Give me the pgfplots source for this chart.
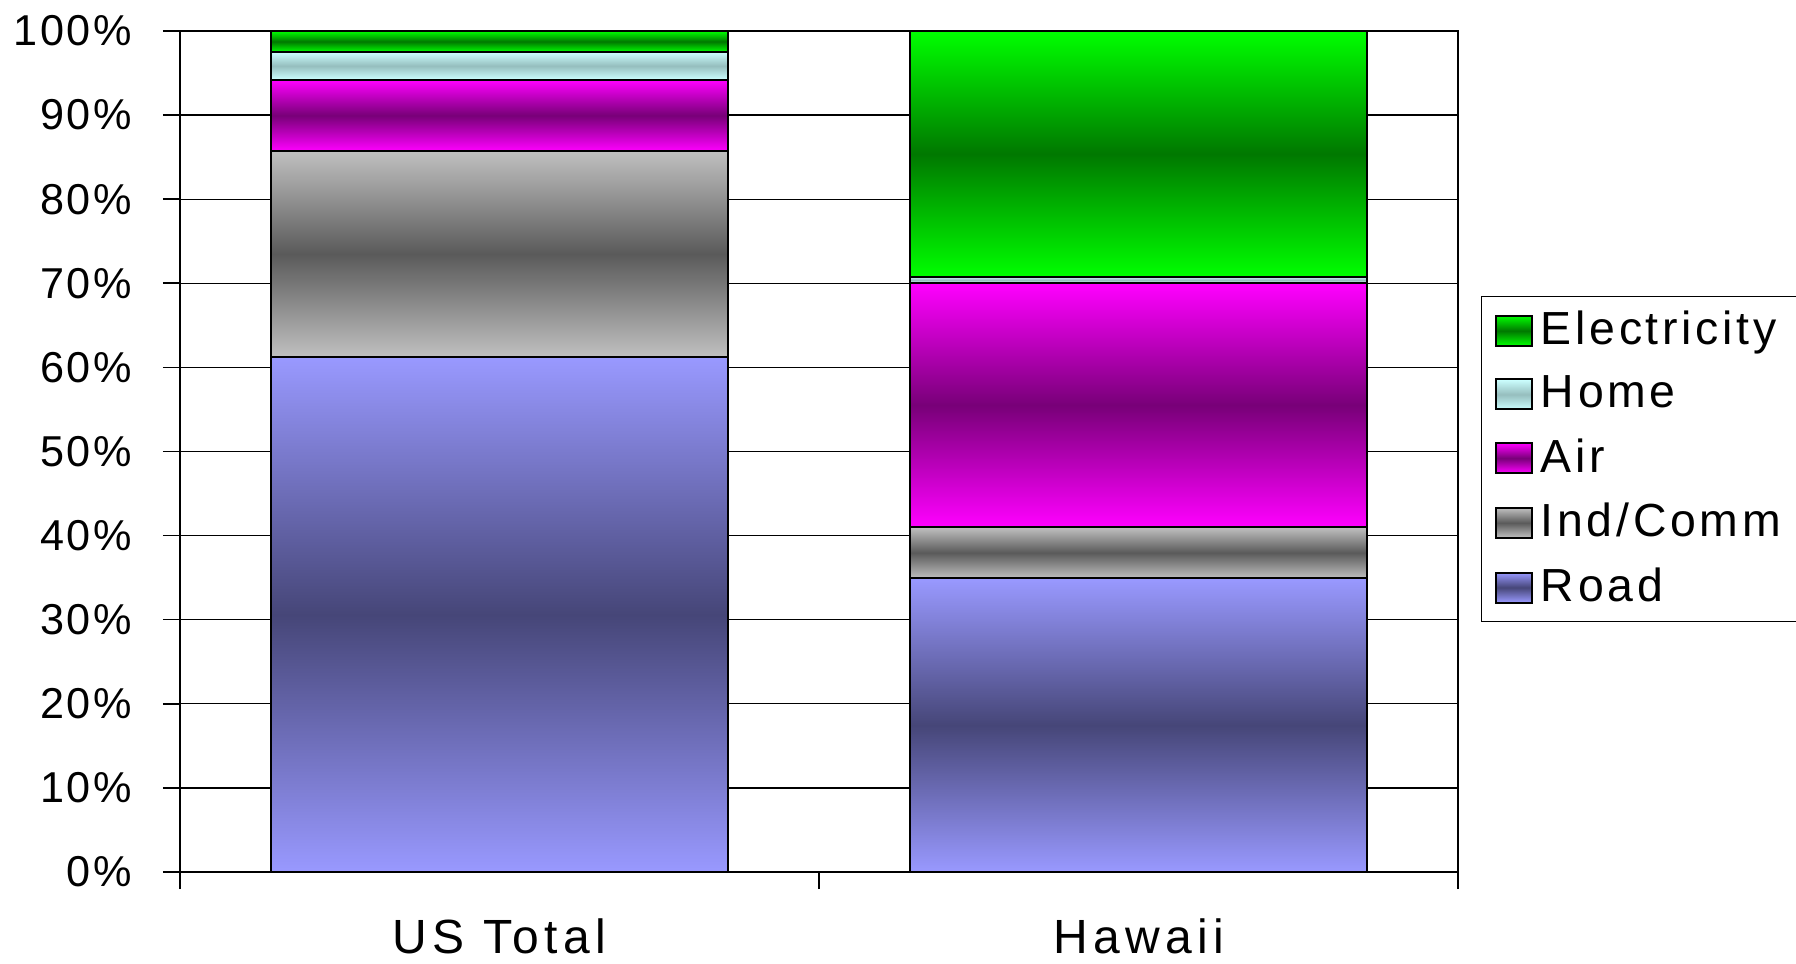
\documentclass[border=0pt]{standalone}
\usepackage{fontspec}
\setmainfont{Liberation Sans}[LetterSpace=6]
\newfontfamily\catfont{Liberation Sans}[LetterSpace=11]
\newfontfamily\legfont{Liberation Sans}[LetterSpace=8]
\usepackage{pgfplots}
\pgfplotsset{compat=1.18}
\definecolor{roadL}{RGB}{153,153,255}
\definecolor{roadD}{RGB}{70,70,120}
\definecolor{indL}{RGB}{192,192,192}
\definecolor{indD}{RGB}{90,90,90}
\definecolor{airL}{RGB}{255,0,255}
\definecolor{airD}{RGB}{120,0,120}
\definecolor{homeL}{RGB}{204,255,255}
\definecolor{homeD}{RGB}{150,190,190}
\definecolor{elecL}{RGB}{0,255,0}
\definecolor{elecD}{RGB}{0,120,0}
\pgfplotsset{
  base/.style={
    width=319.5pt, height=210.25pt, scale only axis,
    ybar stacked, bar width=0.714,
    xmin=-0.5, xmax=1.5, ymin=0, ymax=100,
    every axis plot/.append style={draw=black, line width=0.5pt},
  },
  road/.style={top color=roadL, bottom color=roadL, middle color=roadD},
  ind/.style={top color=indL, bottom color=indL, middle color=indD},
  air/.style={top color=airL, bottom color=airL, middle color=airD},
  home/.style={top color=homeL, bottom color=homeL, middle color=homeD},
  elec/.style={top color=elecL, bottom color=elecL, middle color=elecD},
}
\begin{document}
\begin{tikzpicture}
\begin{axis}[
  base,
  xtick={-0.5,0.5,1.5}, xticklabels={US Total, Hawaii}, x tick label as interval,
  ytick={0,10,...,100},
  yticklabel={\pgfmathparse{int(\tick)}\pgfmathresult\%},
  ymajorgrids, grid style={black, line width=0.3pt},
  axis line style={black, line width=0.6pt},
  tick align=outside, tick pos=left,
  major tick length=4.25pt,
  tick style={black, line width=0.4pt},
  yticklabel style={font=\fontsize{10.8}{13}\selectfont, xshift=-4.3pt},
  xticklabel style={font=\catfont\fontsize{12}{14}\selectfont, yshift=-4pt},
  legend style={at={(1.018,0.685)}, anchor=north west, draw=black, line width=0.3pt,
    font=\legfont\fontsize{11.6}{14}\selectfont, row sep=2.25pt, inner xsep=3.3pt, inner ysep=1.6pt, cells={anchor=west}},
  reverse legend,
  legend image code/.code={\draw[#1,draw=black,line width=0.5pt] (0pt,-3.75pt) rectangle (9pt,3.75pt);},
]
% US Total
\addplot[road] coordinates {(0,61.2)};
\addlegendentry{\makebox[80pt][l]{Road}}
\addplot[ind] coordinates {(0,24.5)};
\addlegendentry{Ind/Comm}
\addplot[air] coordinates {(0,8.5)};
\addlegendentry{Air}
\addplot[home] coordinates {(0,3.3)};
\addlegendentry{Home}
\addplot[elec] coordinates {(0,2.5)};
\addlegendentry{Electricity}
\end{axis}
\begin{axis}[base, hide axis]
% Hawaii
\addplot[road] coordinates {(1,34.9)};
\addplot[ind] coordinates {(1,6.1)};
\addplot[air] coordinates {(1,29.0)};
\addplot[home] coordinates {(1,0.8)};
\addplot[elec] coordinates {(1,29.2)};
\end{axis}
\pgfresetboundingbox
\useasboundingbox (-45pt,-22.75pt) rectangle (404pt,218pt);
\end{tikzpicture}
\end{document}
